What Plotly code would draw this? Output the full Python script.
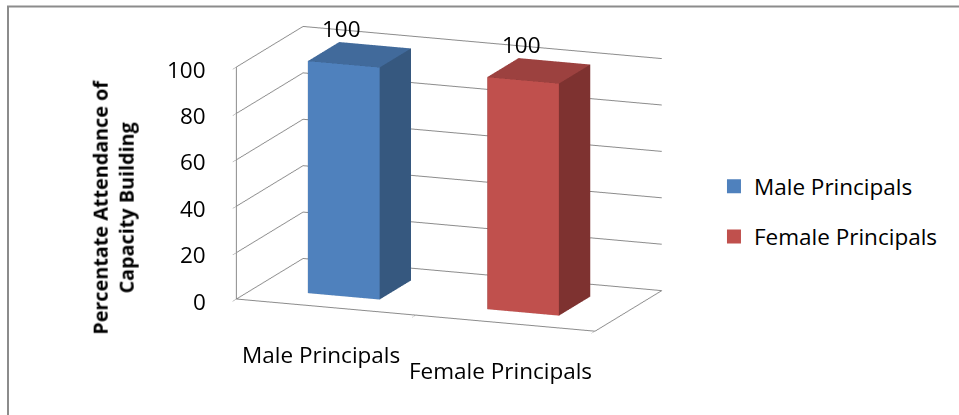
import math
import plotly.graph_objects as go

# Chart data
categories = ["Male Principals", "Female Principals"]
attendance = [100, 100]
series_names = ["Male Principals", "Female Principals"]
front_colors = ["#4F81BD", "#C0504D"]
side_colors = ["#36587F", "#7E3230"]
top_colors = ["#416A9B", "#9C413F"]
y_ticks = [0, 20, 40, 60, 80, 100]

FONT = "Open Sans"
TXT = 22.5
GRID = "#8C8C8C"
BAR_W = 0.4
DEPTH = (0.265, 0.735)


def box_mesh(xc, value, front, side, top, name):
    x0, x1 = xc - BAR_W / 2, xc + BAR_W / 2
    y0, y1 = DEPTH
    z0, z1 = 0, value
    xs = [x0, x1, x1, x0, x0, x1, x1, x0]
    ys = [y0, y0, y1, y1, y0, y0, y1, y1]
    zs = [z0, z0, z0, z0, z1, z1, z1, z1]
    faces = [
        (0, 1, 5, front), (0, 5, 4, front),
        (3, 2, 6, side), (3, 6, 7, side),
        (0, 3, 7, side), (0, 7, 4, side),
        (1, 2, 6, side), (1, 6, 5, side),
        (4, 5, 6, top), (4, 6, 7, top),
        (0, 1, 2, side), (0, 2, 3, side),
    ]
    return go.Mesh3d(
        x=xs, y=ys, z=zs,
        i=[f[0] for f in faces], j=[f[1] for f in faces], k=[f[2] for f in faces],
        facecolor=[f[3] for f in faces],
        flatshading=True,
        lighting=dict(ambient=1, diffuse=0, specular=0, roughness=1, fresnel=0),
        name=name, showlegend=False, hoverinfo="skip",
    )


fig = go.Figure()
centers = [i + 0.5 for i in range(len(categories))]
for idx, (xc, v) in enumerate(zip(centers, attendance)):
    fig.add_trace(box_mesh(xc, v, front_colors[idx], side_colors[idx], top_colors[idx], series_names[idx]))

# legend entries
for idx, name in enumerate(series_names):
    fig.add_trace(go.Scatter3d(
        x=[None], y=[None], z=[None], mode="markers",
        marker=dict(symbol="square", size=14, color=front_colors[idx]),
        name=name, legendgroup=name, showlegend=True,
    ))

# text anchored to 3D positions
label_font = dict(family=FONT, size=TXT, color="black")
scene_notes = []
for v in y_ticks:
    scene_notes.append(dict(x=0, y=0, z=v, text=str(v), showarrow=False,
                            xanchor="right", yanchor="middle", xshift=-28, yshift=-2,
                            font=label_font))
for xc, cat in zip(centers, categories):
    scene_notes.append(dict(x=xc, y=0, z=0, text=cat, showarrow=False,
                            xanchor="center", yanchor="middle", xshift=-5, yshift=-47,
                            font=label_font))
for xc, v in zip(centers, attendance):
    scene_notes.append(dict(x=xc, y=DEPTH[0], z=v, text=str(v), showarrow=False,
                            xanchor="center", yanchor="bottom", xshift=-2, yshift=18,
                            font=label_font))

axis_common = dict(showbackground=False, showspikes=False, zeroline=False,
                   showticklabels=False, linecolor=GRID, linewidth=2,
                   gridcolor=GRID, gridwidth=2, title=dict(text=""))

# orthographic camera: azimuth / elevation of the view
theta = math.radians(21)
phi = math.radians(13.5)
zoom = 1.15
px_per_unit = 207.6 * zoom
dist = 2.0
view = (math.sin(theta) * math.cos(phi), -math.cos(theta) * math.cos(phi), math.sin(phi))
right = (math.cos(theta), math.sin(theta), 0.0)
up = (-math.sin(theta) * math.sin(phi), math.cos(theta) * math.sin(phi), math.cos(phi))
shift_r, shift_u = -35 / px_per_unit, 33 / px_per_unit
center = [-shift_r * right[i] - shift_u * up[i] for i in range(3)]
eye = [center[i] + dist * view[i] for i in range(3)]

fig.update_layout(
    width=959, height=415,
    margin=dict(l=0, r=0, t=0, b=0),
    paper_bgcolor="white",
    font=dict(family=FONT, color="black"),
    scene=dict(
        domain=dict(x=[0, 1], y=[0, 1]),
        aspectmode="manual",
        aspectratio=dict(x=1.61 * zoom, y=0.78 * zoom, z=1.0 * zoom),
        xaxis=dict(range=[0, 2], tickvals=[0, 1, 2], showgrid=False, showline=True,
                   ticks="outside", tickcolor=GRID, ticklen=8, **axis_common),
        yaxis=dict(range=[0, 1], showgrid=False, showline=True, ticks="", **axis_common),
        zaxis=dict(range=[0, 100], tickvals=y_ticks, showgrid=True, showline=True,
                   ticks="outside", tickcolor=GRID, ticklen=8, **axis_common),
        camera=dict(eye=dict(x=eye[0], y=eye[1], z=eye[2]),
                    center=dict(x=center[0], y=center[1], z=center[2]),
                    up=dict(x=0, y=0, z=1), projection=dict(type="orthographic")),
        annotations=scene_notes,
    ),
    legend=dict(x=0.7445, y=0.49, xanchor="left", yanchor="middle",
                font=dict(family=FONT, size=TXT, color="black"), tracegroupgap=18),
    annotations=[dict(
        text="<b>Percentate Attendance of<br>Capacity Building</b>",
        xref="paper", yref="paper", x=0.118, y=0.5, xanchor="center", yanchor="middle",
        textangle=-90, showarrow=False, font=dict(family=FONT, size=19.8, color="black"),
    )],
    shapes=[dict(type="rect", xref="paper", yref="paper",
                 x0=8 / 959, y0=-0.2, x1=1.2, y1=1 - 6.5 / 415,
                 line=dict(color=GRID, width=2))],
)

fig.write_html("out.html", config=dict(displayModeBar=False))
